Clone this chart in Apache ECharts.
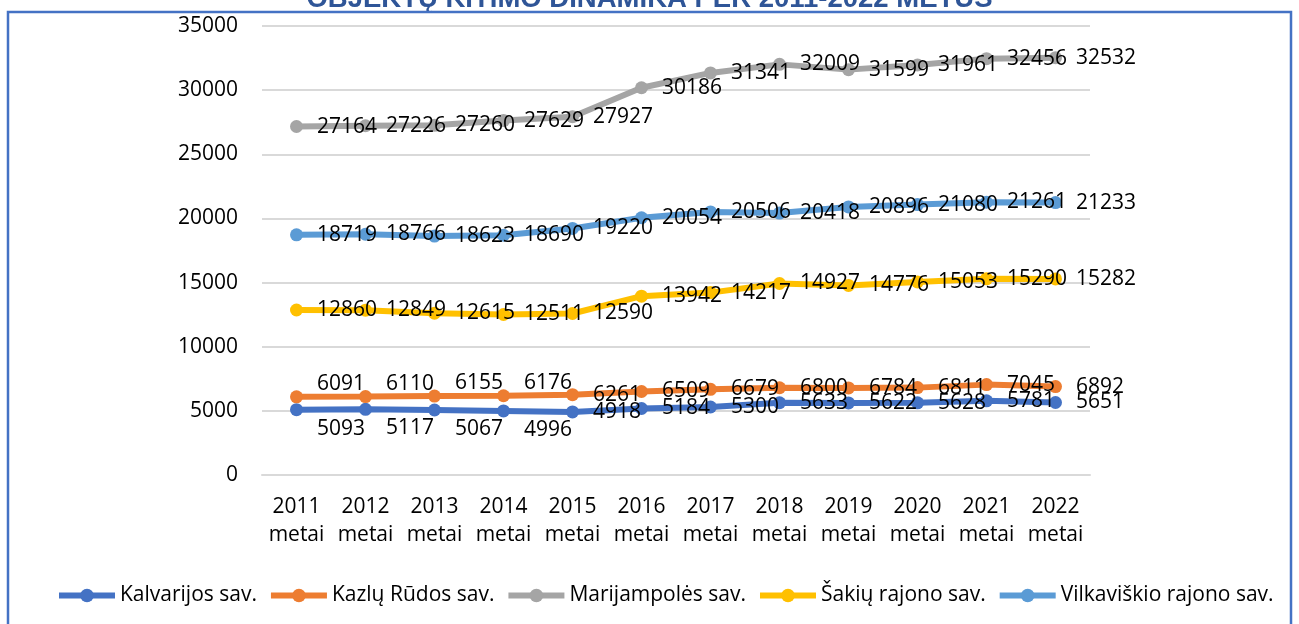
<!DOCTYPE html>
<html>
<head>
<meta charset="utf-8">
<script src="https://cdn.jsdelivr.net/npm/echarts@6/dist/echarts.min.js"></script>
<style>
html, body {margin: 0; padding: 0; background: #fff; overflow: hidden;}
#chart {width: 1299px; height: 624px;}
</style>
</head>
<body>
<div id="chart"></div>
<script>
const years = ['2011', '2012', '2013', '2014', '2015', '2016', '2017', '2018', '2019', '2020', '2021', '2022'];
const kalvarijos = [5093, 5117, 5067, 4996, 4918, 5184, 5300, 5633, 5622, 5628, 5781, 5651];
const kazluRuda = [6091, 6110, 6155, 6176, 6261, 6509, 6679, 6800, 6784, 6811, 7045, 6892];
const marijampole = [27164, 27226, 27260, 27629, 27927, 30186, 31341, 32009, 31599, 31961, 32456, 32532];
const sakiai = [12860, 12849, 12615, 12511, 12590, 13942, 14217, 14927, 14776, 15053, 15290, 15282];
const vilkaviskis = [18719, 18766, 18623, 18690, 19220, 20054, 20506, 20418, 20896, 21080, 21261, 21233];
const seriesNames = ['Kalvarijos sav.', 'Kazlų Rūdos sav.', 'Marijampolės sav.', 'Šakių rajono sav.', 'Vilkaviškio rajono sav.'];
const yMax = 35000;
const yStep = 5000;
const title = 'OBJEKTŲ KITIMO DINAMIKA PER 2011-2022 METUS';

const FONT = '"Open Sans", "Noto Sans", sans-serif';
const chart = echarts.init(document.getElementById('chart'));

// labels of the first few points were moved by hand in the original
const makeData = (values, shift, count) => values.map((v, i) => {
    if (i < count) {
        return {value: v, label: {offset: [0, shift]}};
    }
    return v;
});

const makeSeries = (name, color, data) => ({
    name,
    type: 'line',
    data,
    symbol: 'circle',
    symbolSize: 13,
    lineStyle: {color, width: 6},
    itemStyle: {color},
    label: {
        show: true,
        position: 'right',
        distance: 14,
        color: '#000',
        fontFamily: FONT,
        fontSize: 21
    },
    emphasis: {disabled: true},
    animation: false
});

chart.setOption({
    animation: false,
    graphic: [
        {
            type: 'text',
            left: 'center',
            top: -15,
            style: {
                text: title,
                fontFamily: '"Liberation Sans", sans-serif',
                fontWeight: 'bold',
                fontSize: 27.5,
                fill: '#2F5597'
            }
        },
        {
            type: 'rect',
            shape: {x: 8, y: 12, width: 1283, height: 700},
            style: {fill: 'none', stroke: '#4472C4', lineWidth: 2.5}
        }
    ],
    grid: {left: 262, right: 209, top: 26, bottom: 149},
    legend: {
        left: 56,
        top: 585,
        padding: 0,
        itemWidth: 56,
        itemHeight: 17,
        itemGap: 11,
        data: seriesNames,
        lineStyle: {width: 6},
        textStyle: {color: '#000', fontFamily: FONT, fontSize: 21}
    },
    xAxis: {
        type: 'category',
        data: years,
        boundaryGap: true,
        axisLine: {lineStyle: {color: '#D9D9D9', width: 2}},
        axisTick: {show: false},
        axisLabel: {
            interval: 0,
            formatter: v => v + '\nmetai',
            color: '#000',
            fontFamily: FONT,
            fontSize: 21,
            lineHeight: 28,
            margin: 18
        }
    },
    yAxis: {
        type: 'value',
        min: 0,
        max: yMax,
        interval: yStep,
        axisLine: {show: false},
        axisTick: {show: false},
        splitLine: {lineStyle: {color: '#D9D9D9', width: 2}},
        axisLabel: {
            formatter: v => String(v),
            color: '#000',
            fontFamily: FONT,
            fontSize: 21,
            margin: 24
        }
    },
    series: [
        makeSeries(seriesNames[0], '#4472C4', makeData(kalvarijos, 19, 4)),
        makeSeries(seriesNames[1], '#ED7D31', makeData(kazluRuda, -13, 4)),
        makeSeries(seriesNames[2], '#A5A5A5', marijampole),
        makeSeries(seriesNames[3], '#FFC000', sakiai),
        makeSeries(seriesNames[4], '#5B9BD5', vilkaviskis)
    ]
});
</script>
</body>
</html>
